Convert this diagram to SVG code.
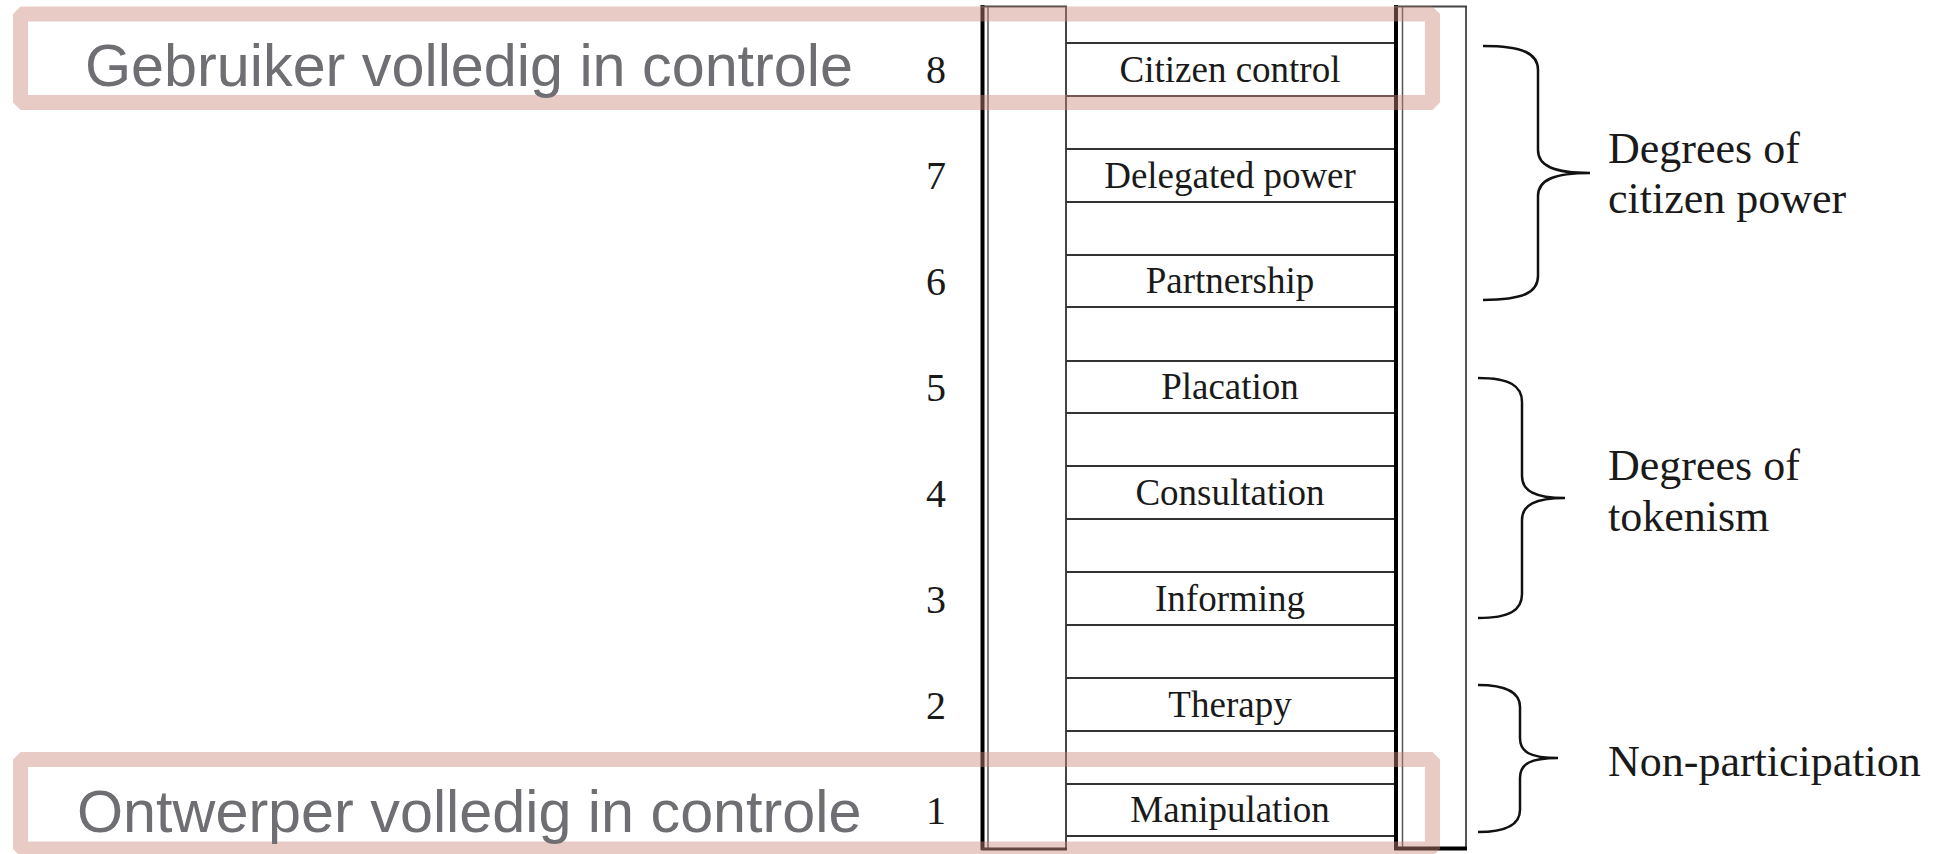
<svg xmlns="http://www.w3.org/2000/svg" width="1948" height="854" viewBox="0 0 1948 854">
<style>
.rung{stroke:#333;stroke-width:2;fill:none}
.lbl{font-family:"Liberation Serif","Times New Roman",serif;font-size:37px;fill:#1a1a1a;text-anchor:middle}
.num{font-family:"Liberation Serif","Times New Roman",serif;font-size:40px;fill:#1a1a1a;text-anchor:middle}
.grp{font-family:"Liberation Serif","Times New Roman",serif;font-size:44px;fill:#1a1a1a}
.nl{font-family:"Liberation Sans",Arial,sans-serif;font-size:59.3px;fill:#6e6e73}
.brace{stroke:#111;stroke-width:2.5;fill:none}
.hl{fill:none;stroke:rgb(205,136,125);stroke-opacity:0.44;stroke-width:15;stroke-linejoin:bevel}
</style>
<rect width="1948" height="854" fill="#fff"/>
<g id="ladder">
  <line x1="982.5" y1="5" x2="982.5" y2="850" stroke="#000" stroke-width="4"/>
  <line x1="988" y1="6.5" x2="988" y2="849" stroke="#555" stroke-width="1.5"/>
  <line x1="1066" y1="6.5" x2="1066" y2="849" stroke="#444" stroke-width="2"/>
  <line x1="981" y1="6.5" x2="1067" y2="6.5" stroke="#444" stroke-width="2"/>
  <line x1="981" y1="849" x2="1067" y2="849" stroke="#111" stroke-width="3"/>
  <line x1="1396" y1="5" x2="1396" y2="850" stroke="#000" stroke-width="4"/>
  <line x1="1402.5" y1="6.5" x2="1402.5" y2="849" stroke="#555" stroke-width="1.5"/>
  <line x1="1466" y1="6.5" x2="1466" y2="849" stroke="#555" stroke-width="2"/>
  <line x1="1394" y1="6.5" x2="1467" y2="6.5" stroke="#444" stroke-width="2"/>
  <line x1="1394" y1="848.5" x2="1467" y2="848.5" stroke="#000" stroke-width="4"/>
</g>
<g id="rung8"><path class="rung" d="M1066,43H1394M1066,96H1394"/><text class="lbl" x="1230" y="81.5">Citizen control</text><text class="num" x="936" y="83">8</text></g>
<g id="rung7"><path class="rung" d="M1066,149H1394M1066,202H1394"/><text class="lbl" x="1230" y="187.5">Delegated power</text><text class="num" x="936" y="189">7</text></g>
<g id="rung6"><path class="rung" d="M1066,255H1394M1066,307H1394"/><text class="lbl" x="1230" y="293">Partnership</text><text class="num" x="936" y="295">6</text></g>
<g id="rung5"><path class="rung" d="M1066,361H1394M1066,413H1394"/><text class="lbl" x="1230" y="399">Placation</text><text class="num" x="936" y="401">5</text></g>
<g id="rung4"><path class="rung" d="M1066,466H1394M1066,519H1394"/><text class="lbl" x="1230" y="504.5">Consultation</text><text class="num" x="936" y="506.5">4</text></g>
<g id="rung3"><path class="rung" d="M1066,572H1394M1066,625H1394"/><text class="lbl" x="1230" y="610.5">Informing</text><text class="num" x="936" y="612.5">3</text></g>
<g id="rung2"><path class="rung" d="M1066,678H1394M1066,731H1394"/><text class="lbl" x="1230" y="716.5">Therapy</text><text class="num" x="936" y="718.5">2</text></g>
<g id="rung1"><path class="rung" d="M1066,784H1394M1066,836H1394"/><text class="lbl" x="1230" y="822">Manipulation</text><text class="num" x="936" y="824">1</text></g>
<g id="connectors">
  <path class="brace" d="M1483,46C1524,46 1538,54 1538,70L1538,150C1538,166 1554,173 1590,173C1554,173 1538,180 1538,196L1538,276C1538,292 1524,300 1483,300"/>
  <path class="brace" d="M1478,378C1510,378 1522,386 1522,402L1522,476C1522,491 1535,498 1565,498C1535,498 1522,505 1522,520L1522,594C1522,610 1510,618 1478,618"/>
  <path class="brace" d="M1478,685C1508,685 1520,693 1520,707L1520,738C1520,752 1530,758 1558,758C1530,758 1520,764 1520,778L1520,810C1520,824 1508,832 1478,832"/>
</g>
<g id="group-citizen-power"><text class="grp" x="1608" y="163">Degrees of</text><text class="grp" x="1608" y="213">citizen power</text></g>
<g id="group-tokenism"><text class="grp" x="1608" y="480">Degrees of</text><text class="grp" x="1608" y="531">tokenism</text></g>
<g id="group-nonparticipation"><text class="grp" x="1608" y="776">Non-participation</text></g>
<g id="highlight-top"><rect class="hl" x="20.5" y="14" width="1412" height="88.5"/><text class="nl" x="85" y="86">Gebruiker volledig in controle</text></g>
<g id="highlight-bottom"><rect class="hl" x="20.5" y="759.5" width="1412" height="89.5"/><text class="nl" x="77" y="832">Ontwerper volledig in controle</text></g>
</svg>
